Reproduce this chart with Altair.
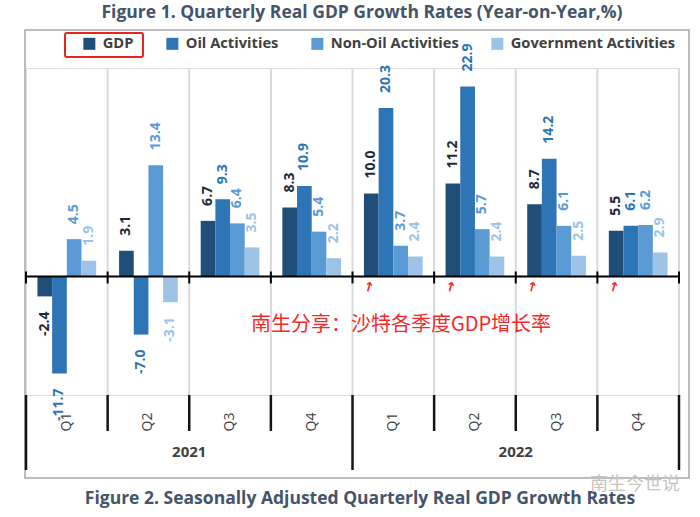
import altair as alt
import pandas as pd

# ---------------- data ----------------
periods = ["2021 Q1", "2021 Q2", "2021 Q3", "2021 Q4",
           "2022 Q1", "2022 Q2", "2022 Q3", "2022 Q4"]
quarter_labels = ["Q1", "Q2", "Q3", "Q4", "Q1", "Q2", "Q3", "Q4"]
years = ["2021", "2022"]
series = ["GDP", "Oil Activities", "Non-Oil Activities", "Government Activities"]
gdp = [-2.4, 3.1, 6.7, 8.3, 10.0, 11.2, 8.7, 5.5]
oil = [-11.7, -7.0, 9.3, 10.9, 20.3, 22.9, 14.2, 6.1]
non_oil = [4.5, 13.4, 6.4, 5.4, 3.7, 5.7, 6.1, 6.2]
gov = [1.9, -3.1, 3.5, 2.2, 2.4, 2.4, 2.5, 2.9]

bar_colors = ["#1f4e79", "#2e75b6", "#5b9bd5", "#9dc3e6"]
label_colors = ["#1b2b3c", "#2e75b6", "#5b9bd5", "#9dc3e6"]

rows = []
for s, vals in zip(series, [gdp, oil, non_oil, gov]):
    for p, v in zip(periods, vals):
        rows.append({"period": p, "series": s, "value": v, "label": f"{v:.1f}"})
df = pd.DataFrame(rows)

# ---------------- layout ----------------
W, H = 653, 327
Y_LO, Y_HI = -14.28, 25.12
y0px = H * Y_HI / (Y_HI - Y_LO)
FONT = "Open Sans"
TITLE_COLOR = "#44546a"
TEXT_COLOR = "#404040"

yscale = alt.Scale(domain=[Y_LO, Y_HI], nice=False, zero=False)
xq = alt.Scale(domain=[0, len(periods)], nice=False, zero=False)
xband = alt.Scale(domain=periods, paddingInner=0, paddingOuter=0)
xoff = alt.Scale(domain=series, paddingInner=0, paddingOuter=0.78)

one = pd.DataFrame({"a": [0]})
n = len(periods)
bounds = pd.DataFrame({"b": list(range(n + 1))})
inner = pd.DataFrame({"b": [i for i in range(1, n) if i != n // 2]})
outer = pd.DataFrame({"b": [0, n // 2, n]})
qdf = pd.DataFrame({"c": [i + 0.5 for i in range(n)], "q": quarter_labels})
ydf = pd.DataFrame({"c": [n / 4, 3 * n / 4], "y": years})
arrows = pd.DataFrame({"c": [i + 0.2 for i in range(n // 2, n)], "t": ["↑"] * (n // 2)})

box = alt.Chart(one).mark_rect(filled=False, stroke="#a6a6a6", strokeWidth=1.5).encode(
    x=alt.value(-1), x2=alt.value(W + 10), y=alt.value(-38), y2=alt.value(H + 83))

grid = alt.Chart(bounds[bounds.b > 0]).mark_rule(color="#d9d9d9", strokeWidth=2).encode(
    x=alt.X("b:Q", scale=xq, axis=None), y=alt.value(0), y2=alt.value(H))

bars = alt.Chart(df).mark_bar().encode(
    x=alt.X("period:N", sort=periods, scale=xband, axis=None),
    xOffset=alt.XOffset("series:N", sort=series, scale=xoff),
    y=alt.Y("value:Q", scale=yscale, axis=None),
    color=alt.Color("series:N", sort=series,
                    scale=alt.Scale(domain=series, range=bar_colors),
                    legend=alt.Legend(orient="none", legendX=56, legendY=-32,
                                      direction="horizontal", columns=4, title=None,
                                      symbolType="square", symbolSize=144,
                                      symbolStrokeWidth=0, labelFont=FONT,
                                      labelFontSize=14.7, labelFontWeight="bold",
                                      labelColor=TEXT_COLOR, labelOffset=6,
                                      labelLimit=400,
                                      columnPadding=31, padding=0)),
)

zero = alt.Chart(one).mark_rule(color="black", strokeWidth=2).encode(
    y=alt.Y("a:Q", scale=yscale, axis=None), x=alt.value(0), x2=alt.value(W))

zticks = alt.Chart(bounds).mark_rule(color="black", strokeWidth=2).encode(
    x=alt.X("b:Q", scale=xq, axis=None), y=alt.value(y0px - 5), y2=alt.value(y0px + 7))

sep_short = alt.Chart(inner).mark_rule(color="#141414", strokeWidth=2.5).encode(
    x=alt.X("b:Q", scale=xq, axis=None), y=alt.value(H), y2=alt.value(H + 36))
sep_long = alt.Chart(outer).mark_rule(color="#141414", strokeWidth=2.5).encode(
    x=alt.X("b:Q", scale=xq, axis=None), y=alt.value(H), y2=alt.value(H + 75))

qtext = alt.Chart(qdf).mark_text(angle=270, font=FONT, fontSize=14, color=TEXT_COLOR,
                                 align="center", baseline="middle").encode(
    x=alt.X("c:Q", scale=xq, axis=None), y=alt.value(H + 27), text="q:N")

ytext = alt.Chart(ydf).mark_text(font=FONT, fontSize=15, fontWeight="bold", color=TEXT_COLOR,
                                 align="center", baseline="middle").encode(
    x=alt.X("c:Q", scale=xq, axis=None), y=alt.value(H + 57), text="y:N")

lab_enc = dict(
    x=alt.X("period:N", sort=periods, scale=xband, axis=None),
    xOffset=alt.XOffset("series:N", sort=series, scale=xoff),
    y=alt.Y("value:Q", scale=yscale, axis=None),
    text="label:N",
    color=alt.Color("series:N", sort=series,
                    scale=alt.Scale(domain=series, range=label_colors), legend=None),
)
pos_lab = alt.Chart(df).transform_filter("datum.value >= 0").mark_text(
    angle=270, align="left", baseline="middle", dx=15, font=FONT, fontSize=14,
    fontWeight="bold").encode(**lab_enc)
neg_lab = alt.Chart(df).transform_filter("datum.value < 0").mark_text(
    angle=270, align="right", baseline="middle", dx=-15, font=FONT, fontSize=14,
    fontWeight="bold").encode(**lab_enc)

arrow_marks = alt.Chart(arrows).mark_text(color="#ff2020", font="DejaVu Sans", fontSize=13,
                                          fontWeight="bold", angle=15, baseline="middle",
                                          align="center").encode(
    x=alt.X("c:Q", scale=xq, axis=None), y=alt.value(y0px + 11), text="t:N")

title1 = alt.Chart(one).mark_text(text="Figure 1. Quarterly Real GDP Growth Rates (Year-on-Year,%)",
                                  font=FONT, fontSize=17.5, fontWeight="bold", color=TITLE_COLOR,
                                  align="center", baseline="middle").encode(
    x=alt.value(336), y=alt.value(-55))
title2 = alt.Chart(one).mark_text(text="Figure 2. Seasonally Adjusted Quarterly Real GDP Growth Rates",
                                  font=FONT, fontSize=17.5, fontWeight="bold", color=TITLE_COLOR,
                                  align="center", baseline="middle").encode(
    x=alt.value(334), y=alt.value(H + 104))

red_box = alt.Chart(one).mark_rect(filled=False, stroke="#e8241f", strokeWidth=2,
                                   cornerRadius=2).encode(
    x=alt.value(39), x2=alt.value(117), y=alt.value(-35), y2=alt.value(-11))

note = alt.Chart(one).mark_text(text="南生分享：沙特各季度GDP增长率", font="Noto Sans CJK SC",
                                fontSize=20, color="#f52a2a", align="center",
                                baseline="middle").encode(
    x=alt.value(375), y=alt.value(257))

watermark = alt.Chart(one).mark_text(text="南生今世说", font="Noto Sans CJK SC", fontSize=18,
                                     color="#c4c4c4", align="right", baseline="middle").encode(
    x=alt.value(654), y=alt.value(H + 90))

chart = alt.layer(
    box, grid, bars, zero, zticks, sep_short, sep_long, qtext, ytext,
    pos_lab, neg_lab, arrow_marks, title1, title2, red_box, note, watermark
).resolve_scale(x="independent", color="independent").properties(
    width=W, height=H,
    autosize=alt.AutoSizeParams(type="none"),
    padding={"left": 26, "top": 68, "right": 21, "bottom": 122},
).configure_view(stroke=None).configure(background="white")

chart.save("out.html", embed_options={"renderer": "svg", "actions": False})
